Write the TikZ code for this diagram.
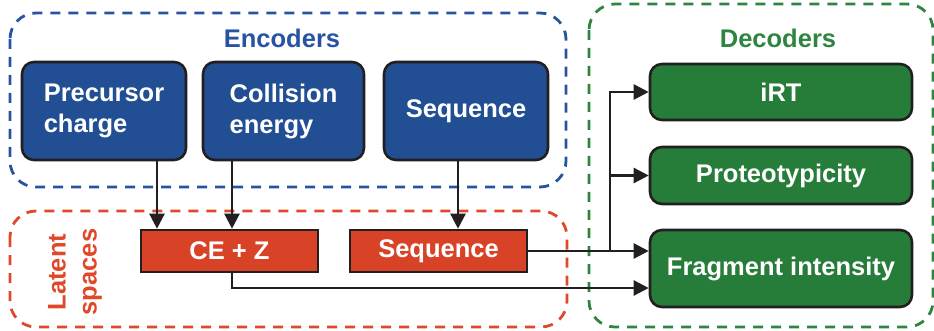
\documentclass[tikz,border=0pt]{standalone}
\usepackage{fontspec}
\setmainfont{Liberation Sans}
\usetikzlibrary{arrows.meta}
\definecolor{encblue}{HTML}{224E94}
\definecolor{encline}{HTML}{2754A2}
\definecolor{latred}{HTML}{D84226}
\definecolor{latline}{HTML}{E0482B}
\definecolor{decgreen}{HTML}{267C39}
\definecolor{decline}{HTML}{2E8540}
\definecolor{wire}{HTML}{231F20}
\begin{document}
\begin{tikzpicture}[x=1pt,y=-1pt,
  every node/.style={font=\fontsize{25.5}{31}\selectfont\bfseries},
  encbox/.style={draw=wire,line width=2.6pt,fill=encblue,text=white,rounded corners=12pt,
    minimum height=98pt,align=left,inner sep=0pt},
  latbox/.style={draw=wire,line width=2.6pt,fill=latred,text=white,
    minimum width=177pt,minimum height=42pt,inner sep=0pt},
  decbox/.style={draw=wire,line width=2.6pt,fill=decgreen,text=white,rounded corners=12pt,
    minimum width=262pt,inner sep=0pt},
  group/.style={line width=2.8pt,dash pattern=on 10pt off 8pt,rounded corners=26pt},
  conn/.style={wire,line width=2.4pt,-{Triangle[length=15pt,width=15pt]}}]
\useasboundingbox (0,0) rectangle (934,331);

\draw[group,encline] (10,13) rectangle (566,187);
\draw[group,latline] (10,211) rectangle (567,327);
\draw[group,decline] (589,4) rectangle (933,327);

\node[text=encline] (enctitle) at (282,38) {Encoders};
\node[text=decline] (dectitle) at (778,38) {Decoders};
\node[text=latline,rotate=90,align=center] (lattitle) at (75,272) {Latent\\spaces};

\node[encbox,minimum width=164pt] (pc) at (104,111) {Precursor\\charge};
\node[encbox,minimum width=161pt] (ce) at (283.5,111) {Collision\\energy};
\node[encbox,minimum width=164pt] (seqenc) at (466,111) {Sequence};

\node[latbox] (cez) at (229.5,251) {CE + Z};
\node[latbox] (seqlat) at (438.5,251) {Sequence};

\node[decbox,minimum height=56pt] (irt) at (781,92) {iRT};
\node[decbox,minimum height=57pt] (prot) at (781,175.5) {Proteotypicity};
\node[decbox,minimum height=77pt] (frag) at (781,268.5) {Fragment intensity};

\coordinate (pcx) at (157,0);
\coordinate (cex) at (232,0);
\coordinate (seqx) at (458,0);
\coordinate (split) at (610,0);
\coordinate (lowbus) at (0,288);

\draw[conn] (pc.south -| pcx) -- (cez.north -| pcx);
\draw[conn] (ce.south -| cex) -- (cez.north -| cex);
\draw[conn] (seqenc.south -| seqx) -- (seqlat.north -| seqx);
\draw[conn] (cez.south -| cex) |- (frag.west |- lowbus);
\draw[conn] (seqlat.east) -- (frag.west |- seqlat.east);
\draw[conn] (seqlat.east -| split) |- (irt.west);
\draw[conn] (split |- prot.west) -- (prot.west);
\end{tikzpicture}
\end{document}
